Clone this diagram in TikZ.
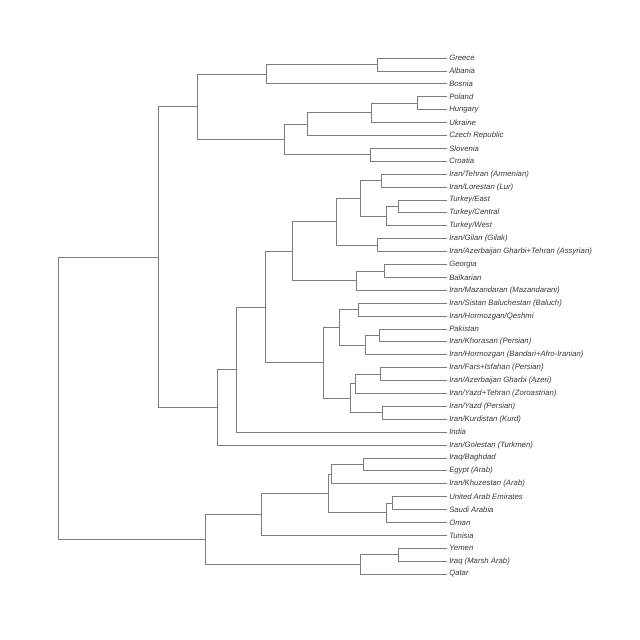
\documentclass[tikz,border=0pt]{standalone}
\usepackage{fontspec}
\setmainfont{Liberation Sans}
\usetikzlibrary{positioning,calc}
\definecolor{treegray}{RGB}{125,125,125}
\definecolor{labelgray}{RGB}{55,55,55}

\begin{document}
\begin{tikzpicture}[x=0.025cm, y=-0.025cm,
		leaf/.style={anchor=west, inner xsep=1.4pt, inner ysep=0pt, text=labelgray, font=\fontsize{5.5}{6.6}\selectfont\itshape},
		branch/.style={treegray, line width=0.5pt}]
				\useasboundingbox (0,0) rectangle (640,640);
				
				% Leaves
				\node[leaf] (greece) at (447,58.0) {Greece};
				\node[leaf] (albania) at (447,70.9) {Albania};
				\node[leaf] (bosnia) at (447,83.8) {Bosnia};
				\node[leaf] (poland) at (447,96.7) {Poland};
				\node[leaf] (hungary) at (447,109.6) {Hungary};
				\node[leaf] (ukraine) at (447,122.5) {Ukraine};
				\node[leaf] (czech) at (447,135.4) {Czech Republic};
				\node[leaf] (slovenia) at (447,148.3) {Slovenia};
				\node[leaf] (croatia) at (447,161.2) {Croatia};
				\node[leaf] (armenian) at (447,174.1) {Iran/Tehran (Armenian)};
				\node[leaf] (lur) at (447,187.0) {Iran/Lorestan (Lur)};
				\node[leaf] (turkeyE) at (447,199.9) {Turkey/East};
				\node[leaf] (turkeyC) at (447,212.8) {Turkey/Central};
				\node[leaf] (turkeyW) at (447,225.7) {Turkey/West};
				\node[leaf] (gilak) at (447,238.6) {Iran/Gilan (Gilak)};
				\node[leaf] (assyrian) at (447,251.5) {Iran/Azerbaijan Gharbi+Tehran (Assyrian)};
				\node[leaf] (georgia) at (447,264.4) {Georgia};
				\node[leaf] (balkarian) at (447,277.3) {Balkarian};
				\node[leaf] (mazandarani) at (447,290.2) {Iran/Mazandaran (Mazandarani)};
				\node[leaf] (baluch) at (447,303.1) {Iran/Sistan Baluchestan (Baluch)};
				\node[leaf] (qeshmi) at (447,316.0) {Iran/Hormozgan/Qeshmi};
				\node[leaf] (pakistan) at (447,328.9) {Pakistan};
				\node[leaf] (khorasan) at (447,341.8) {Iran/Khorasan (Persian)};
				\node[leaf] (bandari) at (447,354.7) {Iran/Hormozgan (Bandari+Afro-Iranian)};
				\node[leaf] (fars) at (447,367.6) {Iran/Fars+Isfahan (Persian)};
				\node[leaf] (azeri) at (447,380.5) {Iran/Azerbaijan Gharbi (Azeri)};
				\node[leaf] (zoroastrian) at (447,393.4) {Iran/Yazd+Tehran (Zoroastrian)};
				\node[leaf] (yazd) at (447,406.3) {Iran/Yazd (Persian)};
				\node[leaf] (kurd) at (447,419.2) {Iran/Kurdistan (Kurd)};
				\node[leaf] (india) at (447,432.1) {India};
				\node[leaf] (turkmen) at (447,445.0) {Iran/Golestan (Turkmen)};
				\node[leaf] (baghdad) at (447,457.9) {Iraq/Baghdad};
				\node[leaf] (egypt) at (447,470.8) {Egypt (Arab)};
				\node[leaf] (khuzestan) at (447,483.7) {Iran/Khuzestan (Arab)};
				\node[leaf] (uae) at (447,496.6) {United Arab Emirates};
				\node[leaf] (saudi) at (447,509.5) {Saudi Arabia};
				\node[leaf] (oman) at (447,522.4) {Oman};
				\node[leaf] (tunisia) at (447,535.3) {Tunisia};
				\node[leaf] (yemen) at (447,548.2) {Yemen};
				\node[leaf] (marsh) at (447,561.1) {Iraq (Marsh Arab)};
				\node[leaf] (qatar) at (447,574.0) {Qatar};
				
				% Inner nodes of the tree
				\coordinate (nGA) at (377,64.45);
				\coordinate (nGAB) at (266,74.1);
				\coordinate (nPH) at (417,103.15);
				\coordinate (nPHU) at (371,112.8);
				\coordinate (nPHUC) at (307,124.1);
				\coordinate (nSC) at (370,154.75);
				\coordinate (nSlav) at (284,139.4);
				\coordinate (nBalkan) at (197,106.8);
				\coordinate (nAL) at (381,180.55);
				\coordinate (nTEC) at (398,206.35);
				\coordinate (nTurk) at (386,216.0);
				\coordinate (nALT) at (360,198.3);
				\coordinate (nGilAss) at (377,245.05);
				\coordinate (nWest1) at (336,221.7);
				\coordinate (nGB) at (384,270.85);
				\coordinate (nGBM) at (356,280.5);
				\coordinate (nWest) at (292,251.1);
				\coordinate (nSQ) at (358,309.55);
				\coordinate (nPK) at (379,335.35);
				\coordinate (nPKB) at (365,345.0);
				\coordinate (nEast1) at (339,327.3);
				\coordinate (nFA) at (380,374.05);
				\coordinate (nFAZ) at (355,383.7);
				\coordinate (nYK) at (382,412.75);
				\coordinate (nEast2) at (350,398.2);
				\coordinate (nEast) at (323,362.75);
				\coordinate (nIran) at (265,306.9);
				\coordinate (nIndia) at (236.5,369.5);
				\coordinate (nGol) at (217.5,407.25);
				\coordinate (nEuras) at (158.3,257.0);
				\coordinate (nIE) at (363,464.35);
				\coordinate (nIEK) at (331,474.0);
				\coordinate (nUS) at (392,503.05);
				\coordinate (nUSO) at (386,512.7);
				\coordinate (nAR) at (328,493.35);
				\coordinate (nART) at (261,514.3);
				\coordinate (nYI) at (398,554.65);
				\coordinate (nYIQ) at (360,564.3);
				\coordinate (nArab) at (205.3,539.3);
				\coordinate (nRoot) at (58.3,398.0);
				
				% Branches
				\draw[branch] (nGA) |- (greece.west);
				\draw[branch] (nGA) |- (albania.west);
				\draw[branch] (nGAB) |- (nGA);
				\draw[branch] (nGAB) |- (bosnia.west);
				\draw[branch] (nPH) |- (poland.west);
				\draw[branch] (nPH) |- (hungary.west);
				\draw[branch] (nPHU) |- (nPH);
				\draw[branch] (nPHU) |- (ukraine.west);
				\draw[branch] (nPHUC) |- (nPHU);
				\draw[branch] (nPHUC) |- (czech.west);
				\draw[branch] (nSC) |- (slovenia.west);
				\draw[branch] (nSC) |- (croatia.west);
				\draw[branch] (nSlav) |- (nPHUC);
				\draw[branch] (nSlav) |- (nSC);
				\draw[branch] (nBalkan) |- (nGAB);
				\draw[branch] (nBalkan) |- (nSlav);
				
				\draw[branch] (nAL) |- (armenian.west);
				\draw[branch] (nAL) |- (lur.west);
				\draw[branch] (nTEC) |- (turkeyE.west);
				\draw[branch] (nTEC) |- (turkeyC.west);
				\draw[branch] (nTurk) |- (nTEC);
				\draw[branch] (nTurk) |- (turkeyW.west);
				\draw[branch] (nALT) |- (nAL);
				\draw[branch] (nALT) |- (nTurk);
				\draw[branch] (nGilAss) |- (gilak.west);
				\draw[branch] (nGilAss) |- (assyrian.west);
				\draw[branch] (nWest1) |- (nALT);
				\draw[branch] (nWest1) |- (nGilAss);
				\draw[branch] (nGB) |- (georgia.west);
				\draw[branch] (nGB) |- (balkarian.west);
				\draw[branch] (nGBM) |- (nGB);
				\draw[branch] (nGBM) |- (mazandarani.west);
				\draw[branch] (nWest) |- (nWest1);
				\draw[branch] (nWest) |- (nGBM);
				
				\draw[branch] (nSQ) |- (baluch.west);
				\draw[branch] (nSQ) |- (qeshmi.west);
				\draw[branch] (nPK) |- (pakistan.west);
				\draw[branch] (nPK) |- (khorasan.west);
				\draw[branch] (nPKB) |- (nPK);
				\draw[branch] (nPKB) |- (bandari.west);
				\draw[branch] (nEast1) |- (nSQ);
				\draw[branch] (nEast1) |- (nPKB);
				\draw[branch] (nFA) |- (fars.west);
				\draw[branch] (nFA) |- (azeri.west);
				\draw[branch] (nFAZ) |- (nFA);
				\draw[branch] (nFAZ) |- (zoroastrian.west);
				\draw[branch] (nYK) |- (yazd.west);
				\draw[branch] (nYK) |- (kurd.west);
				\draw[branch] (nEast2) |- (nFAZ);
				\draw[branch] (nEast2) |- (nYK);
				\draw[branch] (nEast) |- (nEast1);
				\draw[branch] (nEast) |- (nEast2);
				
				\draw[branch] (nIran) |- (nWest);
				\draw[branch] (nIran) |- (nEast);
				\draw[branch] (nIndia) |- (nIran);
				\draw[branch] (nIndia) |- (india.west);
				\draw[branch] (nGol) |- (nIndia);
				\draw[branch] (nGol) |- (turkmen.west);
				\draw[branch] (nEuras) |- (nBalkan);
				\draw[branch] (nEuras) |- (nGol);
				
				\draw[branch] (nIE) |- (baghdad.west);
				\draw[branch] (nIE) |- (egypt.west);
				\draw[branch] (nIEK) |- (nIE);
				\draw[branch] (nIEK) |- (khuzestan.west);
				\draw[branch] (nUS) |- (uae.west);
				\draw[branch] (nUS) |- (saudi.west);
				\draw[branch] (nUSO) |- (nUS);
				\draw[branch] (nUSO) |- (oman.west);
				\draw[branch] (nAR) |- (nIEK);
				\draw[branch] (nAR) |- (nUSO);
				\draw[branch] (nART) |- (nAR);
				\draw[branch] (nART) |- (tunisia.west);
				\draw[branch] (nYI) |- (yemen.west);
				\draw[branch] (nYI) |- (marsh.west);
				\draw[branch] (nYIQ) |- (nYI);
				\draw[branch] (nYIQ) |- (qatar.west);
				\draw[branch] (nArab) |- (nART);
				\draw[branch] (nArab) |- (nYIQ);
				
				\draw[branch] (nRoot) |- (nEuras);
				\draw[branch] (nRoot) |- (nArab);
			\end{tikzpicture}
\end{document}
